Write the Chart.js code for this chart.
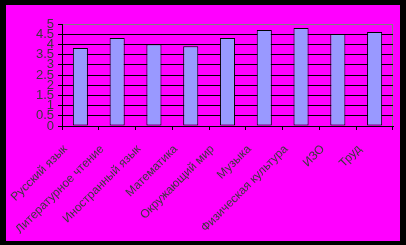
<!DOCTYPE html>
<html>
<head>
<meta charset="utf-8">
<script src="https://cdn.jsdelivr.net/npm/chart.js@4"></script>
<style>
  html, body { margin: 0; padding: 0; background: #000; }
  #wrap { position: absolute; left: 6px; top: 5px; width: 394px; height: 236px; background: #ff00ff; }
</style>
</head>
<body>
<div id="wrap"><canvas id="chart" width="394" height="236"></canvas></div>
<script>
// subjects and average marks
const subjects = [
  'Русский язык',
  'Литературное чтение',
  'Иностранный язык',
  'Математика',
  'Окружающий мир',
  'Музыка',
  'Физическая культура',
  'ИЗО',
  'Труд',
];
const marks = [3.82, 4.31, 4.01, 3.91, 4.31, 4.7, 4.8, 4.51, 4.61];
const yMin = 0;
const yMax = 5;
const yStep = 0.5;

const labelColor = '#3a3a3a';

new Chart(document.getElementById('chart'), {
  type: 'bar',
  data: {
    labels: subjects,
    datasets: [
      {
        data: marks,
        backgroundColor: '#9999ff',
        borderColor: '#000',
        borderWidth: 1,
        borderSkipped: false,
        categoryPercentage: 1,
        barPercentage: 0.41,
      },
    ],
  },
  options: {
    responsive: false,
    animation: false,
    layout: {
      padding: { top: 19, right: 7, left: 0, bottom: 0 },
    },
    plugins: {
      legend: { display: false },
      tooltip: { enabled: false },
    },
    scales: {
      x: {
        offset: true,
        grid: {
          offset: true,
          color: (ctx) => (ctx.type === 'scale' ? '#808080' : 'rgba(0,0,0,0)'),
          tickColor: '#000',
          tickLength: 4,
          lineWidth: 1,
        },
        border: { color: '#000', width: 1 },
        ticks: {
          autoSkip: false,
          minRotation: 45,
          maxRotation: 45,
          padding: 12,
          labelOffset: -15,
          color: labelColor,
          font: { family: 'Liberation Sans, Arial, sans-serif', size: 12 },
        },
        afterFit: (scale) => {
          scale.height = 115;
        },
      },
      y: {
        min: yMin,
        max: yMax,
        grid: {
          color: (ctx) => (ctx.tick && ctx.tick.value === yMax ? '#808080' : '#000'),
          tickColor: '#000',
          tickLength: 4,
          lineWidth: 1,
        },
        border: { color: '#000', width: 1 },
        ticks: {
          stepSize: yStep,
          autoSkip: false,
          padding: 4,
          color: labelColor,
          font: { family: 'Liberation Sans, Arial, sans-serif', size: 13 },
          callback: (value) => String(value),
        },
        afterFit: (scale) => {
          scale.width = 56;
        },
      },
    },
  },
});
</script>
</body>
</html>
